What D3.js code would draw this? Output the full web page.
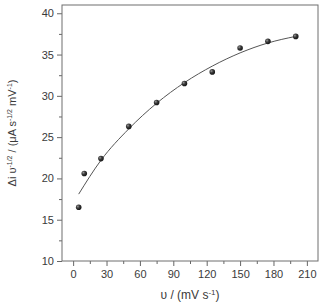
<!DOCTYPE html>
<html>
<head>
<meta charset="utf-8">
<script src="https://cdn.jsdelivr.net/npm/d3@7"></script>
<style>
  body { margin: 0; background: #fff; }
  svg { display: block; font-family: "Liberation Sans", Arial, sans-serif; }
  .axis text { fill: #3a3a3a; font-size: 11px; }
  .axis path, .axis line { stroke: #666; }
</style>
</head>
<body>
<svg width="321" height="304"></svg>
<script>
// measured points
const scanRate = [5, 10, 25, 50, 75, 100, 125, 150, 175, 200]
const deltaI = [16.5, 20.6, 22.4, 26.3, 29.2, 31.5, 32.9, 35.8, 36.6, 37.2]

// fitted curve
const fitX = [5, 25, 50, 75, 100, 125, 150, 175, 200]
const fitY = [18.1, 22.2, 26.0, 29.1, 31.6, 33.6, 35.2, 36.4, 37.2]

const xTicks = [0, 30, 60, 90, 120, 150, 180, 210]
const yTicks = [10, 15, 20, 25, 30, 35, 40]
const xMinor = [15, 45, 75, 105, 135, 165, 195]
const yMinor = [12.5, 17.5, 22.5, 27.5, 32.5, 37.5]

var svg = d3.select("svg"),
  margin = { top: 5, right: 3, bottom: 43, left: 62 },
  width = svg.attr("width") - margin.left - margin.right,
  height = svg.attr("height") - margin.top - margin.bottom

var x = d3.scaleLinear().domain([-10, 220]).range([0, width])
var y = d3.scaleLinear().domain([10, 41]).range([height, 0])

var g = svg.append("g")
  .attr("transform", "translate(" + margin.left + "," + margin.top + ")")

// ball-like marker
var grad = svg.append("defs").append("radialGradient")
  .attr("id", "ball").attr("cx", "35%").attr("cy", "35%").attr("r", "65%")
grad.append("stop").attr("offset", "0%").attr("stop-color", "#9a9a9a")
grad.append("stop").attr("offset", "45%").attr("stop-color", "#3c3c3c")
grad.append("stop").attr("offset", "100%").attr("stop-color", "#161616")

// minor ticks
g.append("g").attr("class", "axis")
  .attr("transform", "translate(0," + height + ")")
  .call(d3.axisBottom(x).tickValues(xMinor).tickSize(3).tickFormat(""))
  .call(a => a.select(".domain").remove())
g.append("g").attr("class", "axis")
  .call(d3.axisLeft(y).tickValues(yMinor).tickSize(3).tickFormat(""))
  .call(a => a.select(".domain").remove())

// major ticks
g.append("g").attr("class", "axis")
  .attr("transform", "translate(0," + height + ")")
  .call(d3.axisBottom(x).tickValues(xTicks).tickSize(5).tickPadding(4).tickSizeOuter(0))
  .call(a => a.select(".domain").remove())
g.append("g").attr("class", "axis")
  .call(d3.axisLeft(y).tickValues(yTicks).tickSize(5).tickPadding(3).tickSizeOuter(0))
  .call(a => a.select(".domain").remove())

// frame
g.append("rect")
  .attr("width", width).attr("height", height)
  .attr("fill", "none").attr("stroke", "#6e6e6e").attr("stroke-width", 1)

// fit line
var fit = fitX.map((v, i) => [v, fitY[i]])
g.append("path")
  .datum(fit)
  .attr("fill", "none")
  .attr("stroke", "#555")
  .attr("stroke-width", 1)
  .attr("d", d3.line().x(d => x(d[0])).y(d => y(d[1])).curve(d3.curveMonotoneX))

// points
g.selectAll(".dot")
  .data(scanRate)
  .enter().append("circle")
  .attr("class", "dot")
  .attr("cx", d => x(d))
  .attr("cy", (d, i) => y(deltaI[i]))
  .attr("r", 2.8)
  .attr("fill", "url(#ball)")

// axis titles
svg.append("text")
  .attr("x", margin.left + width / 2)
  .attr("y", 299)
  .attr("text-anchor", "middle")
  .attr("fill", "#3a3a3a")
  .style("font-size", "12px")
  .html('υ / (mV s<tspan dy="-4" font-size="8px">-1</tspan><tspan dy="4">)</tspan>')

svg.append("text")
  .attr("transform", "translate(16," + (margin.top + height / 2) + ") rotate(-90)")
  .attr("text-anchor", "middle")
  .attr("fill", "#3a3a3a")
  .style("font-size", "11px")
  .html('Δi υ<tspan dy="-4" font-size="7px">-1/2</tspan><tspan dy="4"> / (μA s</tspan><tspan dy="-4" font-size="7px">-1/2</tspan><tspan dy="4"> mV</tspan><tspan dy="-4" font-size="7px">-1</tspan><tspan dy="4">)</tspan>')
</script>
</body>
</html>
